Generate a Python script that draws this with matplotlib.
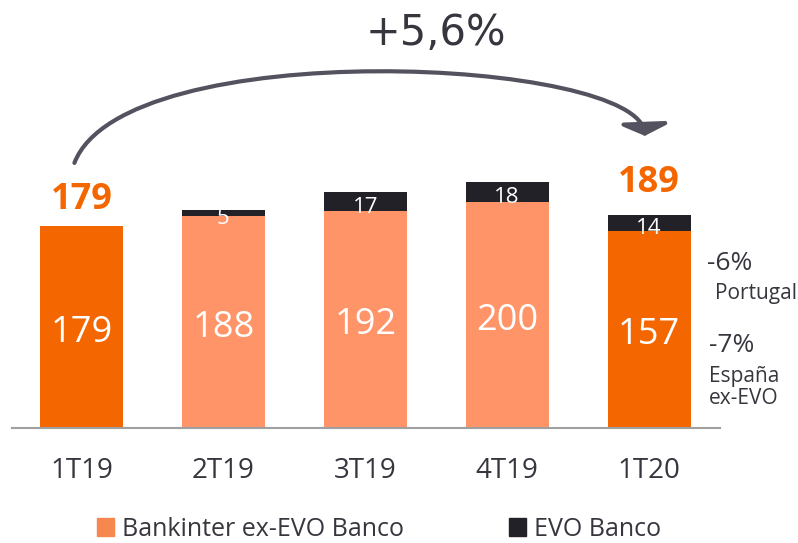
import matplotlib
matplotlib.use('Agg')
import matplotlib.pyplot as plt
from matplotlib.patches import FancyArrowPatch, Patch
from matplotlib.path import Path
import numpy as np

plt.rcParams['font.family'] = ['Open Sans', 'DejaVu Sans']

# data
quarters = ['1T19', '2T19', '3T19', '4T19', '1T20']
ex_evo = [179, 188, 192, 200, 157]
portugal = [0, 0, 0, 0, 18]      # inside the last orange bar, not labelled
evo = [0, 5, 17, 18, 14]
totals = [179, None, None, None, 189]
growth = '+5,6%'
side_notes = [('-6%', 'Portugal'), ('-7%', 'España\nex-EVO')]

dark_orange = '#F46600'
light_orange = '#FF9468'
evo_black = '#222127'
text_grey = '#36363F'
bar_colors = [dark_orange, light_orange, light_orange, light_orange, dark_orange]

fig = plt.figure(figsize=(7.98, 5.43), dpi=100)
ax = fig.add_axes([12 / 798, 115 / 543, 708 / 798, 428 / 543])

x = np.arange(len(quarters))
w = 0.585
ex = np.array(ex_evo)
pt = np.array(portugal)
ev = np.array(evo)

ax.bar(x, ex, width=w, color=bar_colors)
ax.bar(x, pt, width=w, bottom=ex, color=bar_colors)
ax.bar(x, ev, width=w, bottom=ex + pt, color=evo_black)

for i in range(len(x)):
    orange_top = ex[i] + pt[i]
    ax.text(x[i], orange_top / 2 - 5, str(ex[i]), color='white', fontsize=26,
            ha='center', va='center')
    if ev[i] > 0:
        ax.text(x[i], orange_top + ev[i] / 2 - 5, str(ev[i]), color='white',
                fontsize=16, ha='center', va='center')

offsets = [6, 10]
k = 0
for i, t in enumerate(totals):
    if t is None:
        continue
    ax.annotate(str(t), (x[i], ex[i] + pt[i] + ev[i]), xytext=(0, offsets[k]),
                textcoords='offset points', ha='center', va='bottom',
                color=dark_orange, fontsize=26, fontweight='bold')
    k += 1

# curved growth arrow from first to last bar
verts = [(-0.05, 235), (0.3, 350), (3.95, 328), (3.97, 259)]
codes = [Path.MOVETO, Path.CURVE4, Path.CURVE4, Path.CURVE4]
arrow = FancyArrowPatch(path=Path(verts, codes),
                        arrowstyle='-|>,head_length=7,head_width=15',
                        mutation_scale=1, lw=3, color='#55525F',
                        shrinkA=0, shrinkB=0)
ax.add_patch(arrow)
ax.text(2.5, 350, growth, fontsize=30, color=text_grey, ha='center',
        va='center', family='DejaVu Sans')

# side notes on the right
ax.text(4.41, 146, side_notes[0][0], fontsize=19, color=text_grey, va='center')
ax.text(4.465, 119, side_notes[0][1], fontsize=15, color=text_grey, va='center')
ax.text(4.42, 73, side_notes[1][0], fontsize=19, color=text_grey, va='center')
ax.text(4.42, 36, side_notes[1][1], fontsize=15, color=text_grey, va='center',
        linespacing=1.1)

ax.set_xlim(-0.49, 4.5)
ax.set_ylim(0, 428 / 1.128)
ax.set_xticks(x)
ax.set_xticklabels(quarters, fontsize=20, color=text_grey)
ax.tick_params(axis='x', length=0, pad=21)
ax.set_yticks([])
for s in ['top', 'left', 'right']:
    ax.spines[s].set_visible(False)
ax.spines['bottom'].set_color('#A0A0A0')
ax.spines['bottom'].set_linewidth(1.5)

handles = [Patch(color='#F5874F', label='Bankinter ex-EVO Banco'),
           Patch(color=evo_black, label='EVO Banco')]
fig.legend(handles=handles, loc='center', bbox_to_anchor=(0.475, 0.025), ncol=2,
           frameon=False, fontsize=18, handlelength=0.7, handleheight=0.7,
           handletextpad=0.3, columnspacing=4.2, labelcolor=text_grey)

fig.savefig('out.png', dpi=100)
